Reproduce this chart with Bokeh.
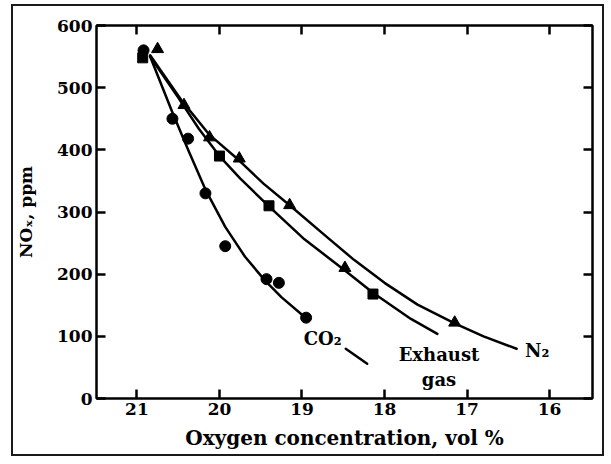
from bokeh.plotting import figure
from bokeh.models import Range1d, LinearAxis, FixedTicker, ColumnDataSource
from bokeh.core.properties import value
from bokeh.embed import file_html
from bokeh.resources import INLINE

# ---- measured data points (markers) ----
co2_x = [20.92, 20.57, 20.38, 20.17, 19.93, 19.43, 19.28, 18.95]
co2_y = [560, 450, 418, 330, 245, 192, 186, 130]
exh_x = [20.93, 20.00, 19.40, 18.14]
exh_y = [548, 390, 310, 168]
n2_x = [20.75, 20.43, 20.12, 19.76, 19.15, 18.48, 17.15]
n2_y = [562, 472, 420, 386, 311, 210, 122]

# ---- drawn curves ----
co2_curve_x = [20.84, 20.57, 20.38, 20.17, 19.93, 19.69, 19.45, 19.25, 18.95]
co2_curve_y = [550, 460, 400, 336, 276, 228, 190, 163, 129]
co2_tail_x = [18.47, 18.21]
co2_tail_y = [80, 56]
exh_curve_x = [20.84, 20.5, 20.25, 20.0, 19.75, 19.4, 18.97, 18.48, 18.14, 17.68, 17.36]
exh_curve_y = [550, 484, 434, 390, 354, 309, 256, 206, 170, 128, 104]
n2_curve_x = [20.84, 20.45, 20.12, 19.77, 19.47, 19.15, 18.7, 18.37, 18.0, 17.6, 17.15, 16.8, 16.4]
n2_curve_y = [552, 478, 424, 384, 346, 311, 260, 223, 186, 151, 121, 100, 80]

# ---- curve labels ----
label_text = ["CO\u2082", "Exhaust", "gas", "N\u2082"]
label_x = [18.75, 17.34, 17.34, 16.15]
label_y = [97, 71, 31, 78]

x_ticks = [21, 20, 19, 18, 17, 16]
y_ticks = [0, 100, 200, 300, 400, 500, 600]

X_MIN, X_MAX = 21.49, 15.48
Y_MIN, Y_MAX = 0, 600

FONT = "DejaVu Serif"

p = figure(width=593, height=452, output_backend="svg", toolbar_location=None,
           x_range=Range1d(X_MIN, X_MAX), y_range=Range1d(Y_MIN, Y_MAX),
           min_border_left=83, min_border_right=14, min_border_top=19, min_border_bottom=60,
           styles={"border": "2px solid #1a1a1a", "margin-left": "11px", "margin-top": "4px"})
p.grid.visible = False
p.outline_line_color = "black"
p.outline_line_width = 2

def style_axis(ax, ticks, show_labels, title_size="17px"):
    ax.ticker = FixedTicker(ticks=ticks)
    ax.major_tick_in = 9
    ax.major_tick_out = 0
    ax.major_tick_line_color = "black"
    ax.major_tick_line_width = 2.5
    ax.minor_tick_line_color = None
    ax.axis_line_color = "black"
    ax.axis_line_width = 2
    ax.major_label_text_font = FONT
    ax.major_label_text_font_style = "bold"
    ax.major_label_text_font_size = "17px"
    ax.major_label_text_color = "black"
    ax.axis_label_text_font = FONT
    ax.axis_label_text_font_style = "bold"
    ax.axis_label_text_font_size = title_size
    ax.axis_label_text_color = "black"
    if not show_labels:
        ax.major_label_text_alpha = 0

style_axis(p.xaxis[0], x_ticks, True, "20px")
style_axis(p.yaxis[0], y_ticks, True, "17px")
p.xaxis[0].axis_label = "Oxygen concentration, vol %"
p.yaxis[0].axis_label = "NO\u2093, ppm"
p.xaxis[0].major_label_standoff = 4
p.yaxis[0].major_label_standoff = 4
p.xaxis[0].axis_label_standoff = 8
p.yaxis[0].axis_label_standoff = 18

top_ax = LinearAxis()
style_axis(top_ax, x_ticks, False)
p.add_layout(top_ax, "above")
right_ax = LinearAxis()
style_axis(right_ax, y_ticks, False)
p.add_layout(right_ax, "right")

# curves
for cx, cy in [(co2_curve_x, co2_curve_y), (co2_tail_x, co2_tail_y),
               (exh_curve_x, exh_curve_y), (n2_curve_x, n2_curve_y)]:
    p.line(cx, cy, line_color="black", line_width=2.5, line_join="round", line_cap="round")

# markers
p.scatter(co2_x, co2_y, marker="circle", size=11, fill_color="black", line_color="black")
p.scatter(exh_x, exh_y, marker="square", size=10, fill_color="black", line_color="black")
p.scatter(n2_x, n2_y, marker="triangle", size=12, fill_color="black", line_color="black")

# labels
src = ColumnDataSource(dict(x=label_x, y=label_y, t=label_text))
p.text(x="x", y="y", text="t", source=src, text_font=value(FONT), text_font_style="bold",
       text_font_size="18px", text_align="center", text_baseline="middle", text_color="black")

open("out.html", "w").write(file_html(p, INLINE))
